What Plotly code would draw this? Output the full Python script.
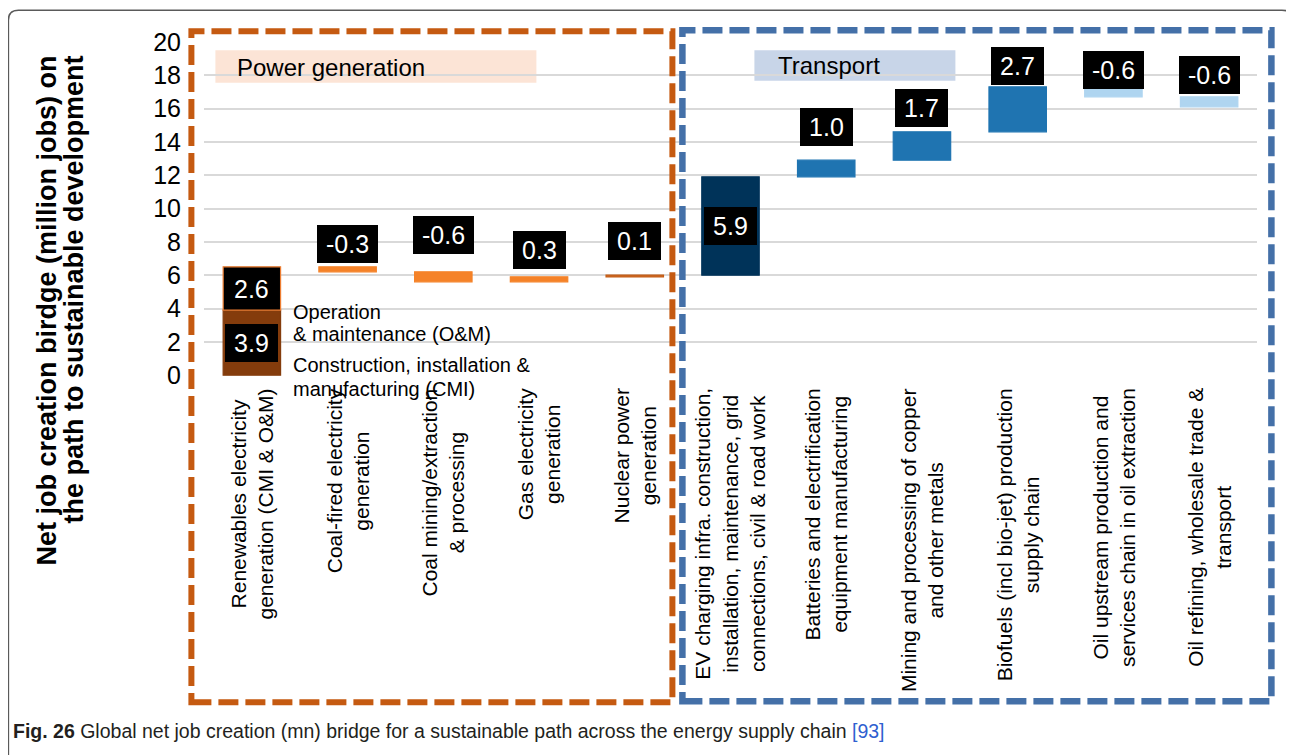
import numpy as np
import plotly.graph_objects as go

# ---------------- data ----------------
categories = [
    "Renewables electricity<br>generation (CMI & O&M)",
    "Coal-fired electricity<br>generation",
    "Coal mining/extraction<br>& processing",
    "Gas electricity<br>generation",
    "Nuclear power<br>generation",
    "EV charging infra. construction,<br>installation, maintenance, grid<br>connections, civil & road work",
    "Batteries and electrification<br>equipment manufacturing",
    "Mining and processing of copper<br>and other metals",
    "Biofuels (incl bio-jet) production<br>supply chain",
    "Oil upstream production and<br>services chain in oil extraction",
    "Oil refining, wholesale trade &<br>transport",
]
renewables_cmi = 3.9   # construction, installation & manufacturing
renewables_om = 2.6    # operation & maintenance
bridge_values = [-0.3, -0.6, 0.3, 0.1, 5.9, 1.0, 1.7, 2.7, -0.6, -0.6]
y_ticks = list(range(0, 21, 2))

# ---------------- styles ----------------
bar_colors = ["#843C0C", "#000000", "#F58228", "#F58228", "#F58228", "#C55A11",
              "#003359", "#1F74B1", "#1F74B1", "#1F74B1", "#AFD5F0", "#AFD5F0"]
bar_line_colors = ["#843C0C", "#ED7D31", "#F58228", "#F58228", "#F58228", "#C55A11",
                   "#003359", "#1F74B1", "#1F74B1", "#1F74B1", "#AFD5F0", "#AFD5F0"]
label_mode = ["inbox", "inbar", "top", "top", "top", "top",
              "inbox", "top", "top", "top", "top", "top"]
label_lift = [0, 0, 4, 18, 8, 15, 0, 14, 5, 2, -2, 3]
FONT = "Arial, Liberation Sans, sans-serif"

# waterfall geometry derived from the data
steps = np.array([renewables_cmi, renewables_om] + bridge_values)
step_x = [categories[0], categories[0]] + categories[1:]
ends = np.cumsum(steps)
bases = ends - steps

# ---------------- pixel helpers for decorations ----------------
W, H = 1294, 755
PAGE_OFF = 8          # browser body margin
L, R = 203.6, 1256.6
yr = [-0.05, 20.05]
ppu = (375.0 - 41.7) / 20.0
T = 41.7 - 0.05 * ppu
B = 375.0 + 0.05 * ppu


def px2x(p):
    return (p - L) / (R - L)


def px2y(p):
    return (B - p) / (B - T)


fig = go.Figure()
fig.add_trace(go.Bar(
    x=step_x, y=steps, base=bases,
    width=0.6,
    marker=dict(color=bar_colors, line=dict(color=bar_line_colors, width=1.2)),
    showlegend=False, hoverinfo="skip",
))

annotations = []
# value labels
for i, (v, b0, e0, xc) in enumerate(zip(steps, bases, ends, step_x)):
    txt = f"{v:.1f}"
    mode = label_mode[i]
    common = dict(x=xc, xref="x", yref="y", text=txt, showarrow=False,
                  font=dict(family=FONT, size=25, color="white"))
    if mode == "inbar":
        annotations.append(dict(y=(b0 + e0) / 2, yanchor="middle", **common))
    else:
        box = dict(bgcolor="black", width=43 if v >= 0 else 51, height=28,
                   borderpad=5, borderwidth=0)
        if mode == "inbox":
            annotations.append(dict(y=(b0 + e0) / 2, yanchor="middle", **box, **common))
        else:
            annotations.append(dict(y=max(b0, e0), yanchor="bottom",
                                    yshift=label_lift[i], **box, **common))

# category labels (rotated, centered lines)
for c in categories:
    annotations.append(dict(
        x=c, xref="x", y=px2y(387), yref="paper", text=c, showarrow=False,
        textangle=-90, align="center", xanchor="center", yanchor="top",
        borderpad=0, font=dict(family=FONT, size=21, color="black")))

# O&M / CMI explanation lines
for txt, ym in [("Operation", 312), ("& maintenance (O&M)", 334),
                ("Construction, installation &", 365), ("manufacturing (CMI)", 389)]:
    annotations.append(dict(
        x=px2x(292), xref="paper", y=px2y(ym), yref="paper", text=txt,
        showarrow=False, xanchor="left", yanchor="middle", borderpad=0,
        font=dict(family=FONT, size=20, color="black")))

# group titles
annotations.append(dict(x=px2x(236), y=px2y(67), xref="paper", yref="paper",
                        text="Power generation", showarrow=False, xanchor="left",
                        yanchor="middle", borderpad=0,
                        font=dict(family=FONT, size=24, color="black")))
annotations.append(dict(x=px2x(777), y=px2y(65.5), xref="paper", yref="paper",
                        text="Transport", showarrow=False, xanchor="left",
                        yanchor="middle", borderpad=0,
                        font=dict(family=FONT, size=24, color="black")))

# y-axis title, two lines
for txt, xc, yc in [("Net job creation birdge (million jobs) on", 47, 310),
                    ("the path to sustainable development", 74, 289)]:
    annotations.append(dict(x=px2x(xc), y=px2y(yc), xref="paper", yref="paper",
                            text="<b>" + txt + "</b>", showarrow=False, textangle=-90,
                            xanchor="center", yanchor="middle", borderpad=0,
                            font=dict(family=FONT, size=27, color="black")))

# caption
annotations.append(dict(
    x=px2x(12), y=px2y(731), xref="paper", yref="paper", showarrow=False,
    xanchor="left", yanchor="middle", borderpad=0,
    text="<b>Fig. 26</b> Global net job creation (mn) bridge for a sustainable path "
         "across the energy supply chain <span style='color:#2F5FD0'>[93]</span>",
    font=dict(family=FONT, size=19.5, color="#231F20")))

# ---------------- shapes ----------------
shapes = []
# outer rounded frame
x0, x1, y0, y1, rr = 8, 1291.5, 10, 790, 10
pts = lambda px, py: f"{px2x(px)},{px2y(py)}"
path = (f"M {pts(x0 + rr, y0)} L {pts(x1 - rr, y0)} Q {pts(x1, y0)} {pts(x1, y0 + rr)} "
        f"L {pts(x1, y1)} L {pts(x0, y1)} L {pts(x0, y0 + rr)} Q {pts(x0, y0)} {pts(x0 + rr, y0)} Z")
shapes.append(dict(type="path", path=path, xref="paper", yref="paper",
                   line=dict(color="#5A5A5A", width=1.5), layer="below"))
# title boxes
shapes.append(dict(type="rect", xref="paper", yref="paper",
                   x0=px2x(215), x1=px2x(536), y0=px2y(82.7), y1=px2y(50),
                   fillcolor="#FCE4D6", line=dict(width=0), layer="between"))
shapes.append(dict(type="rect", xref="paper", yref="paper",
                   x0=px2x(754), x1=px2x(955), y0=px2y(80.7), y1=px2y(50),
                   fillcolor="#C8D5E8", line=dict(width=0), layer="between"))
# dashed group frames
shapes.append(dict(type="rect", xref="paper", yref="paper",
                   x0=px2x(191), x1=px2x(672), y0=px2y(702), y1=px2y(31),
                   line=dict(color="#C55A11", width=6, dash="20px,7px"), layer="above"))
shapes.append(dict(type="rect", xref="paper", yref="paper",
                   x0=px2x(682), x1=px2x(1271), y0=px2y(701), y1=px2y(30),
                   line=dict(color="#4470A8", width=6.5, dash="20px,7px"), layer="above"))

fig.update_layout(
    width=W - PAGE_OFF, height=H - PAGE_OFF, autosize=False,
    margin=dict(l=L - PAGE_OFF, r=W - R, t=T - PAGE_OFF, b=H - B, pad=0),
    paper_bgcolor="white", plot_bgcolor="white",
    bargap=0.4,
    xaxis=dict(type="category", categoryorder="array", categoryarray=categories,
               range=[-0.5, len(categories) - 0.5], showticklabels=False,
               showgrid=False, zeroline=False, showline=False),
    yaxis=dict(range=yr, tickvals=y_ticks, ticktext=[str(t) for t in y_ticks],
               showgrid=True, gridcolor="#D9D9D9", gridwidth=2, zeroline=False,
               showline=False, ticks="", ticklabelstandoff=22,
               tickfont=dict(family=FONT, size=25, color="black")),
    annotations=annotations,
    shapes=shapes,
)

fig.write_html("out.html")
